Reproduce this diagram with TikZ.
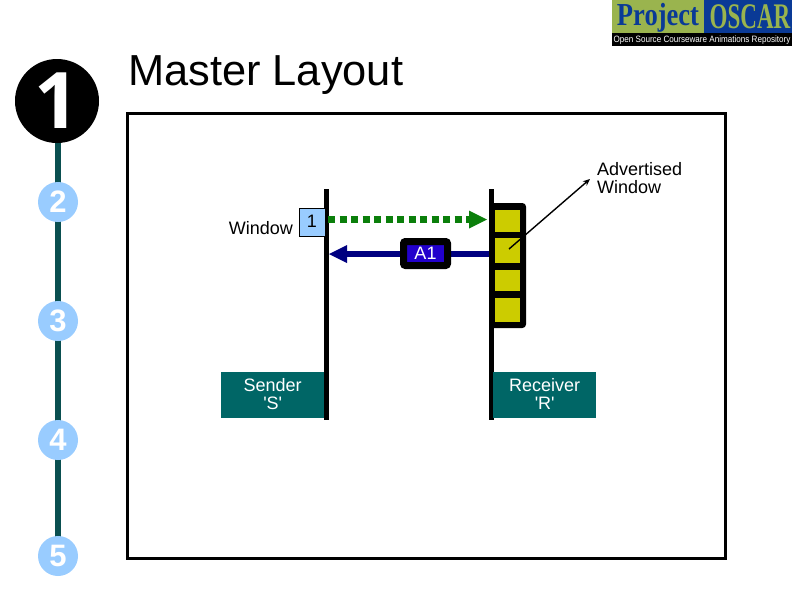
\documentclass[tikz,border=0pt]{standalone}
\usepackage{fontspec}
\setmainfont{Liberation Sans}
\newfontfamily\logofont{Liberation Serif}
\newfontfamily\bignumfont{Open Sans}
\usetikzlibrary{arrows.meta}
\definecolor{spine}{HTML}{0A4F50}
\definecolor{stepblue}{HTML}{99CCFF}
\definecolor{teal}{HTML}{006666}
\definecolor{cell}{HTML}{CCCC00}
\definecolor{ackblue}{HTML}{000080}
\definecolor{ackfill}{HTML}{2200CC}
\definecolor{datagreen}{HTML}{0B7F0B}
\definecolor{logogreen}{HTML}{9AB44E}
\definecolor{logoblue}{HTML}{0A3A96}
\tikzset{
  stepdot/.style={circle,fill=stepblue,minimum size=40pt,inner sep=0pt,text=white,font=\fontsize{31}{31}\selectfont\bfseries},
  timeline/.style={line width=5.5pt,black},
  hostbox/.style={fill=teal,text=white,minimum width=103pt,minimum height=46pt,inner sep=0pt,align=center,font=\fontsize{18}{18}\selectfont},
  cellbox/.style={fill=cell,minimum width=25pt,inner sep=0pt},
  plain/.style={inner sep=0pt,align=left,font=\fontsize{18}{18}\selectfont},
}
\begin{document}
\begin{tikzpicture}[x=1pt,y=-1pt]
\useasboundingbox (0,0) rectangle (794,595);
% logo
\fill[logogreen] (612,0) rectangle (704,34);
\fill[logoblue] (704,0) rectangle (792,34);
\fill[black] (612,33) rectangle (792,46);
\node[text=logoblue,inner sep=0pt,font=\logofont\bfseries\fontsize{32}{32}\selectfont,xscale=.83] (lp) at (658,18) {Project};
\node[text=logogreen,inner sep=0pt,font=\logofont\bfseries\fontsize{36}{36}\selectfont,xscale=.64] (lo) at (750,17) {OSCAR};
\node[text=white,inner sep=0pt,font=\fontsize{9.2}{10}\selectfont,xscale=.88] (lt) at (702,40) {Open Source Courseware Animations Repository};
% sidebar
\coordinate (top) at (58,101);
\coordinate (bot) at (58,556);
\draw[spine,line width=6pt] (top) -- (bot);
\node[circle,fill=black,minimum size=84pt,inner sep=0pt,text=white,font=\bignumfont\fontsize{78}{78}\selectfont\bfseries] (s1) at (57,101) {1};
\node[stepdot] (s2) at (58,202) {2};
\node[stepdot] (s3) at (58,321) {3};
\node[stepdot] (s4) at (58,440) {4};
\node[stepdot] (s5) at (58,556) {5};
% title
\node[anchor=west,inner sep=0pt,font=\fontsize{43.4}{43.4}\selectfont] (title) at (128,75) {Master Layout};
% frame
\draw[line width=3pt] (127,113) rectangle (725,558);
% receiver window
\draw[line width=4pt,rounded corners=2pt,fill=black] (491,205) rectangle (524,326);
\node[cellbox,minimum height=22pt,anchor=north west] (c1) at (495,210) {};
\node[cellbox,minimum height=25pt,anchor=north west] (c2) at (495,238) {};
\node[cellbox,minimum height=21pt,anchor=north west] (c3) at (495,270) {};
\node[cellbox,minimum height=24pt,anchor=north west] (c4) at (495,298) {};
% timelines
\coordinate (st) at (326.5,189);
\coordinate (sb) at (326.5,420);
\coordinate (rt) at (491.5,189);
\coordinate (rb) at (491.5,420);
\draw[timeline] (st) -- (sb);
\draw[timeline] (rt) -- (rb);
% hosts
\node[hostbox,anchor=north west] (sender) at (221,372) {Sender\\\textquotesingle S\textquotesingle\rule[-2pt]{0pt}{1pt}};
\node[hostbox,anchor=north west] (receiver) at (493,372) {Receiver\\\textquotesingle R\textquotesingle\rule[-2pt]{0pt}{1pt}};
% window
\node[draw=black,line width=.8pt,fill=stepblue,minimum width=26pt,minimum height=28pt,inner sep=0pt,anchor=north west,font=\fontsize{18}{18}\selectfont] (w1) at (298.5,207.5) {\raisebox{2pt}{1}};
\node[plain,anchor=east] (wl) at (293,228) {Window};
% data arrow
\coordinate (d0) at (328,219.5);
\coordinate (d1) at (487,219.5);
\draw[datagreen,line width=6.5pt,dash pattern=on 7pt off 4.5pt,-{Triangle[length=18pt,width=18pt,line width=0pt]}] (d0) -- (d1);
% ack arrow
\coordinate (a0) at (489,254);
\coordinate (a1) at (329,254);
\draw[ackblue,line width=6pt,-{Triangle[length=18pt,width=18pt,line width=0pt]}] (a0) -- (a1);
\node[draw=black,line width=7pt,rounded corners=2pt,fill=ackfill,text=white,minimum width=44pt,minimum height=24pt,inner sep=0pt,font=\fontsize{18}{18}\selectfont] (ack) at (425.5,253.5) {A1};
% leader
\coordinate (lead) at (509,249);
\node[plain,anchor=north west] (adv) at (597,162) {Advertised\\Window};
\draw[line width=1.4pt,-{Stealth[length=7pt,width=6pt]}] (lead) -- (590,179);
\end{tikzpicture}
\end{document}
